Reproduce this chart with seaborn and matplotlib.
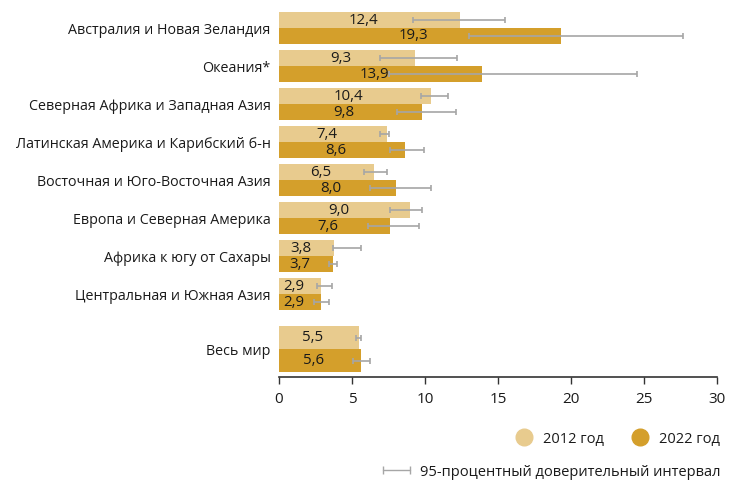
import numpy as np
import pandas as pd
import matplotlib
matplotlib.use("Agg")
import matplotlib.pyplot as plt
from matplotlib.lines import Line2D
import seaborn as sns

# ---- data ----
regions = ["Австралия и Новая Зеландия", "Океания*", "Северная Африка и Западная Азия",
           "Латинская Америка и Карибский б-н", "Восточная и Юго-Восточная Азия",
           "Европа и Северная Америка", "Африка к югу от Сахары", "Центральная и Южная Азия"]
world_label = "Весь мир"
val_2012 = [12.4, 9.3, 10.4, 7.4, 6.5, 9.0, 3.8, 2.9]
val_2022 = [19.3, 13.9, 9.8, 8.6, 8.0, 7.6, 3.7, 2.9]
world_2012 = 5.5
world_2022 = 5.6
lo_2012 = [9.2, 6.9, 9.7, 6.9, 5.8, 7.6, 3.7, 2.6]
hi_2012 = [15.5, 12.2, 11.6, 7.5, 7.4, 9.8, 5.6, 3.6]
lo_2022 = [13.0, 7.5, 8.1, 7.6, 6.2, 6.1, 3.4, 2.4]
hi_2022 = [27.7, 24.5, 12.1, 9.9, 10.4, 9.6, 4.0, 3.45]
world_lo_2012, world_hi_2012 = 5.3, 5.6
world_lo_2022, world_hi_2022 = 5.1, 6.2
years = ["2012 год", "2022 год"]
colors = ["#E8CB8E", "#D49F2B"]
xticks = [0, 5, 10, 15, 20, 25, 30]

# positions
pos = list(range(len(regions)))
world_pos = 8.45

df_reg = pd.DataFrame({
    "pos": pos + pos,
    "value": val_2012 + val_2022,
    "year": [years[0]] * len(pos) + [years[1]] * len(pos),
})
df_world = pd.DataFrame({
    "pos": [world_pos, world_pos],
    "value": [world_2012, world_2022],
    "year": years,
})

sns.set_theme(style="white")
plt.rcParams["font.family"] = ["Open Sans", "DejaVu Sans"]

fig = plt.figure(figsize=(7.38, 4.84), dpi=100)
ax = fig.add_axes([279 / 738, 1 - 377 / 484, (717 - 279) / 738, (377 - 9) / 484])

pal = dict(zip(years, colors))
sns.barplot(data=df_reg, x="value", y="pos", hue="year", orient="y", native_scale=True,
            width=0.84, palette=pal, hue_order=years, errorbar=None, legend=False,
            saturation=1, linewidth=0, ax=ax)
sns.barplot(data=df_world, x="value", y="pos", hue="year", orient="y", native_scale=True,
            width=1.2, palette=pal, hue_order=years, errorbar=None, legend=False,
            saturation=1, linewidth=0, ax=ax)

# error bars and value labels (patches sorted top to bottom)
patches = sorted(ax.patches, key=lambda p: p.get_y() + p.get_height() / 2)
los, his = [], []
for a, b, c, d in zip(lo_2012, hi_2012, lo_2022, hi_2022):
    los += [a, c]
    his += [b, d]
los += [world_lo_2012, world_lo_2022]
his += [world_hi_2012, world_hi_2022]

for p, lo, hi in zip(patches, los, his):
    yc = p.get_y() + p.get_height() / 2
    w = p.get_width()
    ax.annotate(f"{w:.1f}".replace(".", ","), xy=(w / 2, yc), xytext=(-4.5, 0),
                textcoords="offset points", ha="center", va="center",
                fontsize=10.8, color="#1a1a1a", zorder=5)
    ax.errorbar([(lo + hi) / 2], [yc], xerr=[[(hi - lo) / 2], [(hi - lo) / 2]],
                fmt="none", ecolor="#a6a6a6", elinewidth=1.2, capsize=2.3,
                capthick=1.2, zorder=4)

ax.set_xlim(0, 30)
ax.set_ylim(9.18, -0.5)
ax.set_xticks(xticks)
ax.set_xticklabels([str(t) for t in xticks], fontsize=11, color="#1a1a1a")
ax.set_yticks(pos + [world_pos])
ax.set_yticklabels(regions + [world_label], fontsize=10.3, color="#1a1a1a")
ax.tick_params(axis="y", length=0, pad=6)
ax.tick_params(axis="x", length=5, width=1, color="#333333", direction="out", pad=6, bottom=True)
ax.set_xlabel("")
ax.set_ylabel("")
for s in ["top", "right", "left"]:
    ax.spines[s].set_visible(False)
ax.spines["bottom"].set_color("#333333")
ax.spines["bottom"].set_linewidth(1.2)

# legends
h1 = [Line2D([], [], marker="o", linestyle="none", markersize=12, markerfacecolor=c,
             markeredgecolor=c) for c in colors]
leg1 = fig.legend(h1, years, loc="center right", bbox_to_anchor=(0.976, 1 - 439 / 484),
                  ncol=2, frameon=False, fontsize=10.5, handletextpad=0.3,
                  columnspacing=1.5, borderpad=0, borderaxespad=0, labelcolor="#1a1a1a")
h2 = [Line2D([], [], color="#a6a6a6", linewidth=1, marker="|", markersize=6,
             markeredgewidth=1)]
leg2 = fig.legend(h2, ["95-процентный доверительный интервал"], loc="center right",
                  bbox_to_anchor=(0.976, 1 - 472 / 484), frameon=False, fontsize=10.5,
                  numpoints=2, handlelength=2.4, handletextpad=0.4, borderpad=0,
                  borderaxespad=0, labelcolor="#1a1a1a")

fig.savefig("out.png", dpi=100)
